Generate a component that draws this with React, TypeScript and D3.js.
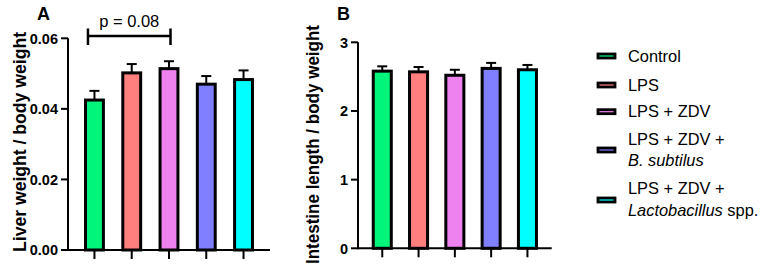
import React from "react";
import * as d3 from "d3";

const categories = ["Control", "LPS", "LPS + ZDV", "LPS + ZDV + B. subtilus", "LPS + ZDV + Lactobacillus spp."];
const colors = ["#00F57A", "#FF7F7F", "#EE82EE", "#7F7FFF", "#00FFFF"];
const liverMean = [0.0425, 0.0502, 0.0514, 0.0470, 0.0483];
const liverErr = [0.0026, 0.0025, 0.0021, 0.0023, 0.0026];
const intestineMean = [2.58, 2.57, 2.52, 2.62, 2.60];
const intestineErr = [0.07, 0.07, 0.08, 0.08, 0.07];
const liverTicks = [0, 0.02, 0.04, 0.06];
const intestineTicks = [0, 1, 2, 3];

const FONT = "'Liberation Sans', Arial, Helvetica, sans-serif";

type PanelProps = {
  x0: number; x1: number; yTop: number; yBottom: number;
  domainMax: number; ticks: number[]; fmt: (v: number) => string;
  means: number[]; errs: number[]; pi: number; po: number;
  label: string; labelX: number; labelCY: number; labelLen: number;
  letter: string; letterX: number;
  children?: (x: d3.ScaleBand<string>, y: d3.ScaleLinear<number, number>) => React.ReactNode;
};

function Panel(p: PanelProps) {
  const x = d3.scaleBand<string>().domain(categories).range([p.x0, p.x1]).paddingInner(p.pi).paddingOuter(p.po);
  const y = d3.scaleLinear().domain([0, p.domainMax]).range([p.yBottom, p.yTop]);
  const bw = x.bandwidth();
  return (
    <g>
      {categories.map((c, i) => {
        const cx = (x(c) as number) + bw / 2;
        const top = y(p.means[i]);
        const et = y(p.means[i] + p.errs[i]);
        return (
          <g key={c}>
            <line x1={cx} x2={cx} y1={top} y2={et} stroke="#000" strokeWidth={2} />
            <line x1={cx - 5} x2={cx + 5} y1={et} y2={et} stroke="#000" strokeWidth={2} />
            <rect x={x(c)} y={top} width={bw} height={p.yBottom - top} fill={colors[i]} stroke="#000" strokeWidth={3} />
            <line x1={cx} x2={cx} y1={p.yBottom} y2={p.yBottom + 9} stroke="#000" strokeWidth={2} />
          </g>
        );
      })}
      <line x1={p.x0} x2={p.x1} y1={p.yBottom} y2={p.yBottom} stroke="#000" strokeWidth={2} />
      <line x1={p.x0} x2={p.x0} y1={p.yTop} y2={p.yBottom + 1} stroke="#000" strokeWidth={2} />
      {p.ticks.map((t) => (
        <g key={t}>
          <line x1={p.x0 - 7} x2={p.x0} y1={y(t)} y2={y(t)} stroke="#000" strokeWidth={2} />
          <text x={p.x0 - 10} y={y(t)} dy="0.36em" textAnchor="end" fontFamily={FONT} fontWeight="bold" fontSize={14.5}>{p.fmt(t)}</text>
        </g>
      ))}
      <text transform={`translate(${p.labelX},${p.labelCY}) rotate(-90)`} textAnchor="middle" fontFamily={FONT} fontWeight="bold" fontSize={17.5}
        textLength={p.labelLen} lengthAdjust="spacingAndGlyphs">{p.label}</text>
      <text x={p.letterX} y={20} fontFamily={FONT} fontWeight="bold" fontSize={18}>{p.letter}</text>
      {p.children ? p.children(x, y) : null}
    </g>
  );
}

export default function App() {
  const legendY = [56, 85, 111.7, 150, 200];
  return (
    <svg width={761} height={269} style={{ position: "absolute", left: 0, top: 0, background: "#fff" }}>
      <Panel x0={68} x1={270} yTop={38.3} yBottom={250} domainMax={0.06} ticks={liverTicks}
        fmt={(v) => v.toFixed(2)} means={liverMean} errs={liverErr} pi={0.52} po={0.47}
        label="Liver weight / body weight" labelX={26} labelCY={142} labelLen={220} letter="A" letterX={37}>
        {(x, y) => {
          const bw = x.bandwidth();
          const a = (x(categories[0]) as number) + bw / 2 - 6.5;
          const b = (x(categories[2]) as number) + bw / 2 + 1.5;
          const ly = 36;
          return (
            <g>
              <line x1={a} x2={b} y1={ly} y2={ly} stroke="#000" strokeWidth={2.5} />
              <line x1={a} x2={a} y1={28.5} y2={45} stroke="#000" strokeWidth={2.5} />
              <line x1={b} x2={b} y1={28.5} y2={45} stroke="#000" strokeWidth={2.5} />
              <text x={(a + b) / 2} y={27.3} textAnchor="middle" fontFamily={FONT} fontSize={16.5}>p = 0.08</text>
            </g>
          );
        }}
      </Panel>
      <Panel x0={358} x1={551.7} yTop={42.3} yBottom={248.3} domainMax={3} ticks={intestineTicks}
        fmt={(v) => String(v)} means={intestineMean} errs={intestineErr} pi={0.503} po={0.42}
        label="Intestine length / body weight" labelX={318.5} labelCY={144.5} labelLen={239} letter="B" letterX={337} />
      <g fontFamily={FONT} fontSize={16.4}>
        {categories.map((c, i) => (
          <rect key={c} x={598} y={legendY[i] - 2} width={17} height={4} fill={colors[i]} stroke="#000" strokeWidth={2.8} />
        ))}
        <text x={628} y={56} dy="0.35em">Control</text>
        <text x={628} y={85} dy="0.35em">LPS</text>
        <text x={628} y={111.7} dy="0.35em">LPS + ZDV</text>
        <text x={628} y={139} dy="0.35em">LPS + ZDV +</text>
        <text x={628} y={160} dy="0.35em" fontStyle="italic">B. subtilus</text>
        <text x={628} y={188.3} dy="0.35em">LPS + ZDV +</text>
        <text x={628} y={210} dy="0.35em"><tspan fontStyle="italic">Lactobacillus</tspan> spp.</text>
      </g>
    </svg>
  );
}
